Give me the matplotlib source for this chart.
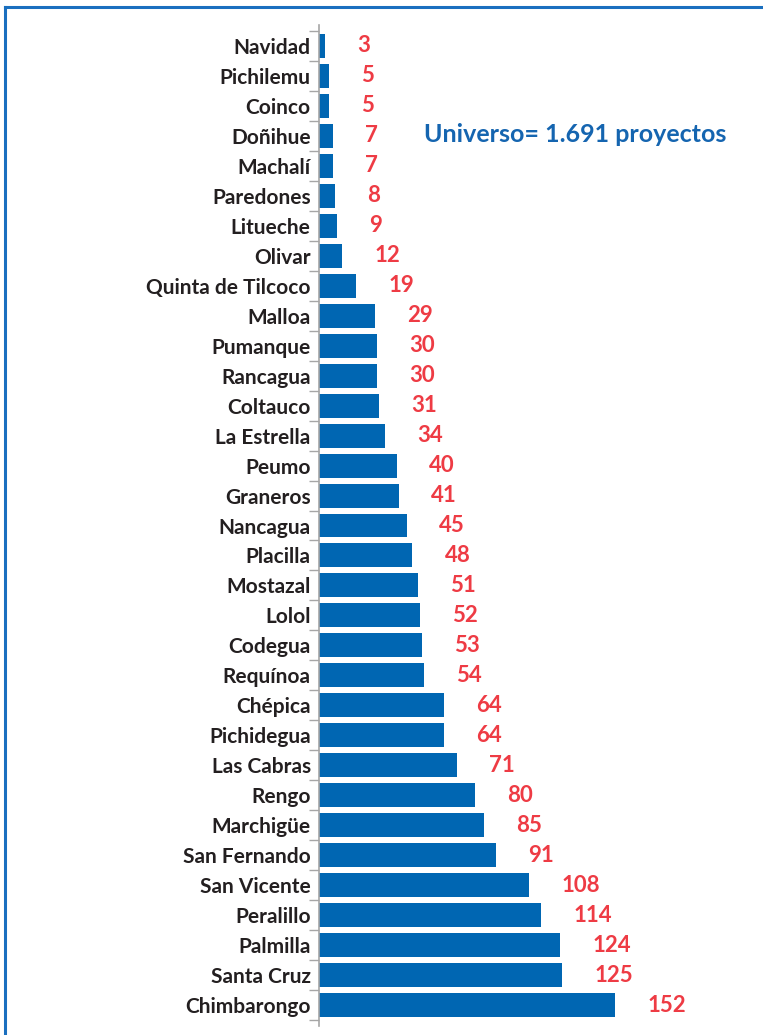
import matplotlib
matplotlib.use('Agg')
import matplotlib.pyplot as plt
import matplotlib.lines as mlines
import numpy as np

plt.rcParams['font.family'] = ['Lato', 'DejaVu Sans']

comunas = ['Navidad', 'Pichilemu', 'Coinco', 'Doñihue', 'Machalí', 'Paredones',
           'Litueche', 'Olivar', 'Quinta de Tilcoco', 'Malloa', 'Pumanque',
           'Rancagua', 'Coltauco', 'La Estrella', 'Peumo', 'Graneros', 'Nancagua',
           'Placilla', 'Mostazal', 'Lolol', 'Codegua', 'Requínoa', 'Chépica',
           'Pichidegua', 'Las Cabras', 'Rengo', 'Marchigüe', 'San Fernando',
           'San Vicente', 'Peralillo', 'Palmilla', 'Santa Cruz', 'Chimbarongo']
proyectos = [3, 5, 5, 7, 7, 8, 9, 12, 19, 29, 30, 30, 31, 34, 40, 41, 45,
             48, 51, 52, 53, 54, 64, 64, 71, 80, 85, 91, 108, 114, 124, 125, 152]
titulo = 'Universo= 1.691 proyectos'

bar_color = '#0066b2'
label_color = '#ee3b44'
fig_w, fig_h = 7.63, 10.35
fig = plt.figure(figsize=(fig_w, fig_h), dpi=100)

# axes placed in pixel terms
ax_left = 319 / 763
ax_width = (170 * 1.947) / 763
ax_bottom = 9 / 1035
ax_height = 1001 / 1035
ax = fig.add_axes([ax_left, ax_bottom, ax_width, ax_height])

ypos = np.arange(len(comunas))
ax.barh(ypos, proyectos, height=0.8, color=bar_color, linewidth=0)
for y, v in zip(ypos, proyectos):
    ax.text(v + 16.5, y, str(v), ha='left', va='center', color=label_color,
            fontsize=16, fontweight='bold')

ax.set_xlim(0, 170)
ax.set_ylim(32.7, -0.7)
ax.set_yticks(ypos)
ax.set_yticklabels(comunas, fontsize=15, fontweight='bold', color='#231f20')
ax.set_yticks(np.arange(-0.5, len(comunas)), minor=True)
ax.tick_params(axis='y', which='major', length=0, pad=6)
ax.tick_params(axis='y', which='minor', length=7, width=1, color='#a6a6a6')
ax.set_xticks([])
for s in ['top', 'right', 'bottom']:
    ax.spines[s].set_visible(False)
ax.spines['left'].set_color('#a6a6a6')
ax.spines['left'].set_linewidth(1.2)

fig.text(424 / 763, 1 - 135 / 1035, titulo, ha='left', va='center',
         color='#1565b0', fontsize=18, fontweight='bold')

# blue frame on top and left
fig.add_artist(mlines.Line2D([5 / 763, 1], [1 - 7 / 1035, 1 - 7 / 1035],
                             color='#1a6fbf', linewidth=2.2, transform=fig.transFigure))
fig.add_artist(mlines.Line2D([5 / 763, 5 / 763], [0, 1 - 7 / 1035],
                             color='#1a6fbf', linewidth=2.2, transform=fig.transFigure))

plt.savefig('out.png', dpi=100)
